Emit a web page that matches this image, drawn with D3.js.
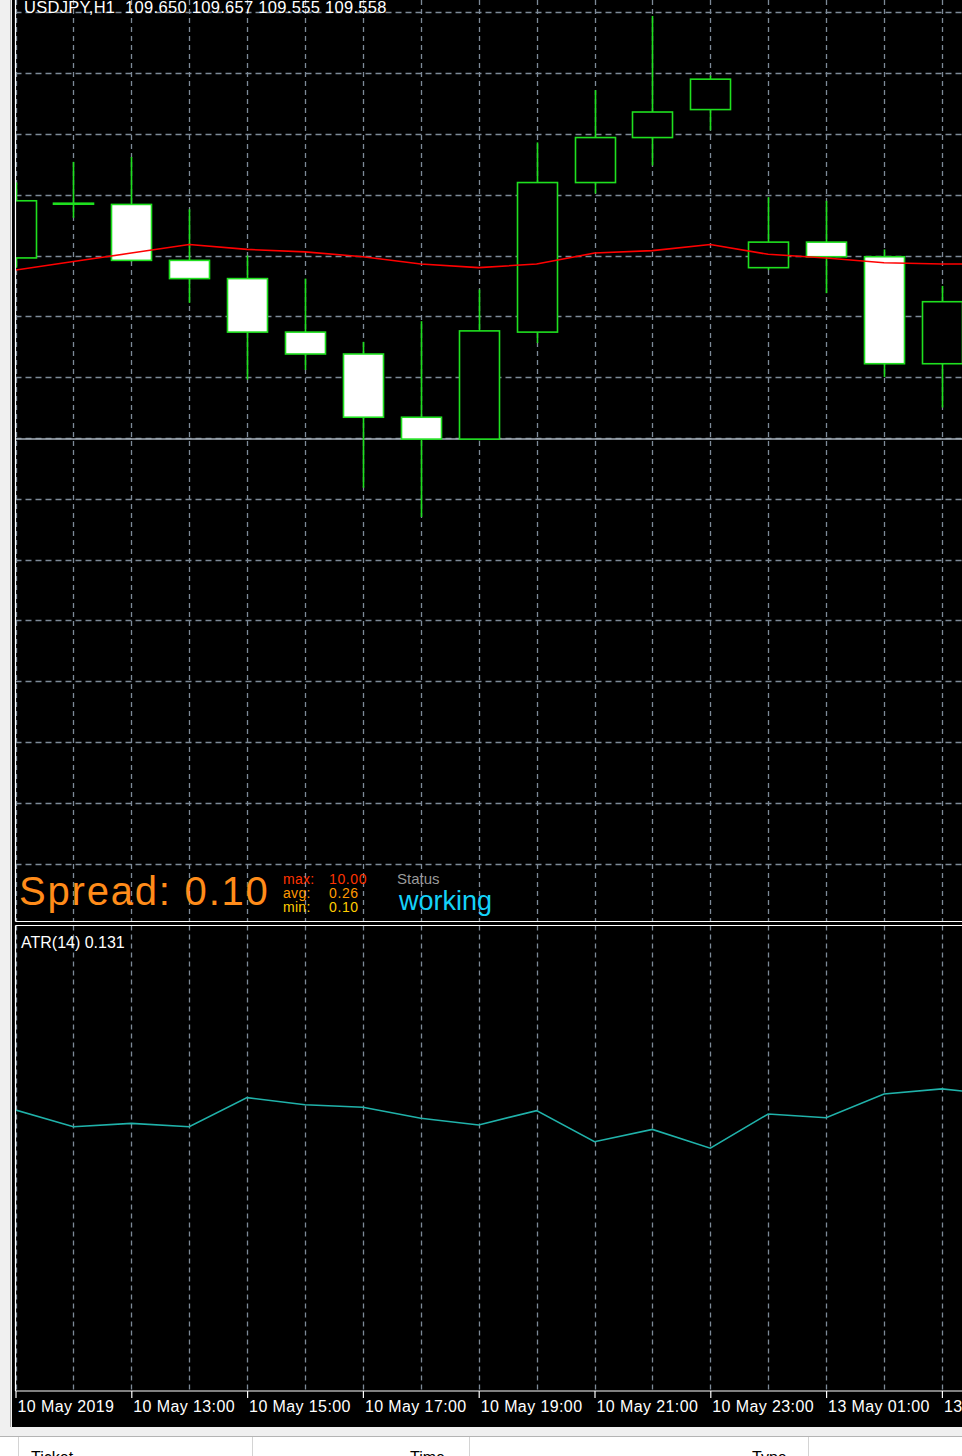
<!DOCTYPE html>
<html>
<head>
<meta charset="utf-8">
<script src="https://cdn.jsdelivr.net/npm/d3@7"></script>
<style>
html, body { margin: 0; padding: 0; background: #f0f0f0; overflow: hidden; }
svg { display: block; }
text { font-family: "Liberation Sans", Arial, sans-serif; }
</style>
</head>
<body>
<div id="chart"></div>
<script>
// DATA - USDJPY H1 bars, 10 May 11:00 .. 13 May 03:00 (index 17 is off screen)
const barTimes = ["10 May 11:00", "10 May 12:00", "10 May 13:00", "10 May 14:00", "10 May 15:00",
    "10 May 16:00", "10 May 17:00", "10 May 18:00", "10 May 19:00", "10 May 20:00", "10 May 21:00",
    "10 May 22:00", "10 May 23:00", "13 May 00:00", "13 May 01:00", "13 May 02:00", "13 May 03:00",
    "13 May 04:00"]

const opens  = [109.698, 109.743, 109.742, 109.696, 109.681, 109.637, 109.619, 109.567, 109.549,
    109.637, 109.760, 109.797, 109.820, 109.690, 109.711, 109.699, 109.611]
const highs  = [109.760, 109.777, 109.781, 109.738, 109.700, 109.681, 109.629, 109.646, 109.672,
    109.793, 109.836, 109.897, 109.848, 109.748, 109.745, 109.705, 109.675]
const lows   = [109.690, 109.731, 109.695, 109.661, 109.598, 109.606, 109.509, 109.485, 109.548,
    109.628, 109.751, 109.774, 109.803, 109.688, 109.669, 109.600, 109.575]
const closes = [109.745, 109.743, 109.696, 109.681, 109.637, 109.619, 109.567, 109.549, 109.638,
    109.760, 109.797, 109.818, 109.845, 109.711, 109.699, 109.611, 109.662]

// moving average (red) and ATR(14) sub window
const maValues = [109.688, 109.695, 109.702, 109.709, 109.705, 109.703, 109.699, 109.693, 109.690,
    109.693, 109.702, 109.704, 109.709, 109.701, 109.698, 109.694, 109.693, 109.693]
const atrValues = [0.1243, 0.1168, 0.1183, 0.1168, 0.1298, 0.1266, 0.1255, 0.1206, 0.1176,
    0.1240, 0.1101, 0.1156, 0.1072, 0.1225, 0.1208, 0.1314, 0.1337, 0.1310]

const bidPrice = 109.549

// time axis labels, every 2 bars
const axisLabelBars = [0, 2, 4, 6, 8, 10, 12, 14, 16]
const axisLabels = ["10 May 2019", "10 May 13:00", "10 May 15:00", "10 May 17:00", "10 May 19:00",
    "10 May 21:00", "10 May 23:00", "13 May 01:00", "13 May 03:00"]

const headerText = "USDJPY,H1  109.650 109.657 109.555 109.558"
const atrLabel = "ATR(14) 0.131"
const spreadNow = "0.10"
const spreadStats = [["max:", "10.00"], ["avg:", "0.26"], ["min:", "0.10"]]
const statusText = "working"
const tableHeaders = ["Ticket", "Time", "Type"]

// LAYOUT
let width = 962, height = 1456
let frameLeft = 15.5
let mainBottom = 921.5, atrTop = 925.5, atrBottom = 1391
let blackBottom = 1427

let svg = d3.select("#chart").append("svg")
    .attr("width", width)
    .attr("height", height)

// window chrome
svg.append("rect").attr("x", 0).attr("y", 0).attr("width", width).attr("height", height).attr("fill", "#f0f0f0")
svg.append("rect").attr("x", 12).attr("y", 0).attr("width", width - 12).attr("height", blackBottom).attr("fill", "#000")
svg.append("line").attr("x1", 10.5).attr("x2", 10.5).attr("y1", 0).attr("y2", blackBottom)
    .attr("stroke", "#a8a8a8")
svg.append("rect").attr("x", 0).attr("y", 1437).attr("width", width).attr("height", height - 1437).attr("fill", "#fff")
svg.append("line").attr("x1", 0).attr("x2", width).attr("y1", 1436.5).attr("y2", 1436.5).attr("stroke", "#b4b4b4")

let colSeps = [18.5, 252.5, 469.5, 808.5]
svg.selectAll(".colsep").data(colSeps).enter().append("line")
    .attr("x1", d => d).attr("x2", d => d)
    .attr("y1", 1437).attr("y2", height)
    .attr("stroke", "#d4d4d4")

let headerX = [31, 410, 752]
svg.selectAll(".th").data(tableHeaders).enter().append("text")
    .attr("x", (d, i) => headerX[i])
    .attr("y", 1463)
    .attr("font-size", 16)
    .attr("fill", "#000")
    .text(d => d)

// SCALES
let x = d3.scaleLinear().domain([0, 16]).range([frameLeft, 941.9])
let y = d3.scaleLinear().domain([109.15, 109.90]).range([924.3, 12.3])
let yAtr = d3.scaleLinear().domain([0, 0.205]).range([1388, 929.4])

let defs = svg.append("defs")
defs.append("clipPath").attr("id", "clipMain").append("rect")
    .attr("x", frameLeft + 0.5).attr("y", 0).attr("width", width).attr("height", mainBottom - 0.5)
defs.append("clipPath").attr("id", "clipAtr").append("rect")
    .attr("x", frameLeft + 0.5).attr("y", atrTop + 0.5).attr("width", width).attr("height", atrBottom - atrTop - 1)

let gridColor = "#7d8a98"
let barIdx = d3.range(barTimes.length).filter(i => x(i) <= width)

// GRID main
let gMain = svg.append("g").attr("clip-path", "url(#clipMain)")
gMain.selectAll(".vgrid").data(barIdx).enter().append("line")
    .attr("x1", d => Math.round(x(d)) + 0.5).attr("x2", d => Math.round(x(d)) + 0.5)
    .attr("y1", 0).attr("y2", mainBottom)
    .attr("stroke", gridColor).attr("stroke-width", 1.3).attr("stroke-dasharray", "5,4")
gMain.selectAll(".hgrid").data(y.ticks(15).filter(p => y(p) < mainBottom - 5)).enter().append("line")
    .attr("x1", frameLeft).attr("x2", width)
    .attr("y1", d => Math.round(y(d)) + 0.5).attr("y2", d => Math.round(y(d)) + 0.5)
    .attr("stroke", gridColor).attr("stroke-width", 1.3).attr("stroke-dasharray", "6,4")

// bid line
gMain.append("line")
    .attr("x1", frameLeft).attr("x2", width)
    .attr("y1", y(bidPrice)).attr("y2", y(bidPrice))
    .attr("stroke", "#a4aeb9").attr("stroke-width", 1.5)

// CANDLES
let bars = opens.map((o, i) => ({i: i, o: o, h: highs[i], l: lows[i], c: closes[i]}))
let green = "#1fe01f"
let bodyW = 40

gMain.selectAll(".wick").data(bars).enter().append("line")
    .attr("x1", d => Math.round(x(d.i)) + 0.5).attr("x2", d => Math.round(x(d.i)) + 0.5)
    .attr("y1", d => y(d.h)).attr("y2", d => y(d.l))
    .attr("stroke", green).attr("stroke-width", 1.6)

gMain.selectAll(".body").data(bars).enter().append("rect")
    .attr("x", d => Math.round(x(d.i)) + 0.5 - bodyW / 2)
    .attr("y", d => y(Math.max(d.o, d.c)))
    .attr("width", bodyW)
    .attr("height", d => Math.max(1, Math.abs(y(d.o) - y(d.c))))
    .attr("fill", d => {
        if (d.c < d.o) {
            return "#ffffff"
        }
        return "#000000"
    })
    .attr("stroke", green).attr("stroke-width", 1.6)

// MA line
let maLine = d3.line().x((d, i) => x(i)).y(d => y(d))
gMain.append("path").datum(maValues)
    .attr("d", maLine)
    .attr("fill", "none").attr("stroke", "#ff0000").attr("stroke-width", 1.6)

// header
gMain.append("text")
    .attr("x", 24).attr("y", 12.7)
    .attr("font-size", 16.5).attr("letter-spacing", 0.3).attr("fill", "#ffffff")
    .style("white-space", "pre")
    .text(headerText)

// spread panel text
svg.append("text")
    .attr("x", 19).attr("y", 905)
    .attr("font-size", 40).attr("letter-spacing", 1.8)
    .attr("fill", "#ff8c1a")
    .text("Spread: " + spreadNow)

let statColors = ["#ff3300", "#ff9900", "#ffcc00"]
let statGroup = svg.selectAll(".stat").data(spreadStats).enter().append("g")
statGroup.append("text")
    .attr("x", 283).attr("y", (d, i) => 883.5 + i * 14)
    .attr("font-size", 14).attr("letter-spacing", 0.3).attr("fill", (d, i) => statColors[i])
    .text(d => d[0])
statGroup.append("text")
    .attr("x", 329).attr("y", (d, i) => 883.5 + i * 14)
    .attr("font-size", 14).attr("letter-spacing", 0.6).attr("fill", (d, i) => statColors[i])
    .text(d => d[1])

svg.append("text")
    .attr("x", 397).attr("y", 884)
    .attr("font-size", 15).attr("fill", "#9a9a9a")
    .text("Status")
svg.append("text")
    .attr("x", 399).attr("y", 910)
    .attr("font-size", 27).attr("fill", "#14d2f8")
    .text(statusText)

// ATR window
let gAtr = svg.append("g").attr("clip-path", "url(#clipAtr)")
gAtr.selectAll(".vgrid").data(barIdx).enter().append("line")
    .attr("x1", d => Math.round(x(d)) + 0.5).attr("x2", d => Math.round(x(d)) + 0.5)
    .attr("y1", atrTop).attr("y2", atrBottom)
    .attr("stroke", gridColor).attr("stroke-width", 1.3).attr("stroke-dasharray", "5,4")

let atrLine = d3.line().x((d, i) => x(i)).y(d => yAtr(d))
gAtr.append("path").datum(atrValues)
    .attr("d", atrLine)
    .attr("fill", "none").attr("stroke", "#20b2aa").attr("stroke-width", 1.6)

svg.append("text")
    .attr("x", 21).attr("y", 947.5)
    .attr("font-size", 16).attr("fill", "#ffffff")
    .text(atrLabel)

// FRAME lines
let frame = svg.append("g").attr("stroke", "#ffffff").attr("stroke-width", 1.2)
frame.append("line").attr("x1", frameLeft).attr("x2", frameLeft).attr("y1", 0).attr("y2", mainBottom)
frame.append("line").attr("x1", frameLeft).attr("x2", width).attr("y1", mainBottom).attr("y2", mainBottom)
frame.append("line").attr("x1", frameLeft).attr("x2", frameLeft).attr("y1", atrTop).attr("y2", atrBottom)
frame.append("line").attr("x1", frameLeft).attr("x2", width).attr("y1", atrTop).attr("y2", atrTop)
frame.append("line").attr("x1", frameLeft).attr("x2", width).attr("y1", atrBottom).attr("y2", atrBottom)

// TIME AXIS
let xAxis = d3.axisBottom(x)
    .tickValues(axisLabelBars)
    .tickFormat((d, i) => axisLabels[i])
    .tickSize(7)
    .tickSizeOuter(0)

let axisG = svg.append("g")
    .attr("transform", "translate(0," + atrBottom + ")")
    .call(xAxis)
axisG.select(".domain").remove()
axisG.selectAll(".tick line").attr("stroke", "#ffffff").attr("stroke-width", 1.2)
axisG.selectAll(".tick text")
    .attr("fill", "#ffffff")
    .attr("font-family", "Liberation Sans, Arial, sans-serif")
    .attr("font-size", 16)
    .attr("letter-spacing", 0.4)
    .attr("text-anchor", "start")
    .attr("x", 1.5)
    .attr("y", 10)
    .attr("dy", "0.71em")
</script>
</body>
</html>
